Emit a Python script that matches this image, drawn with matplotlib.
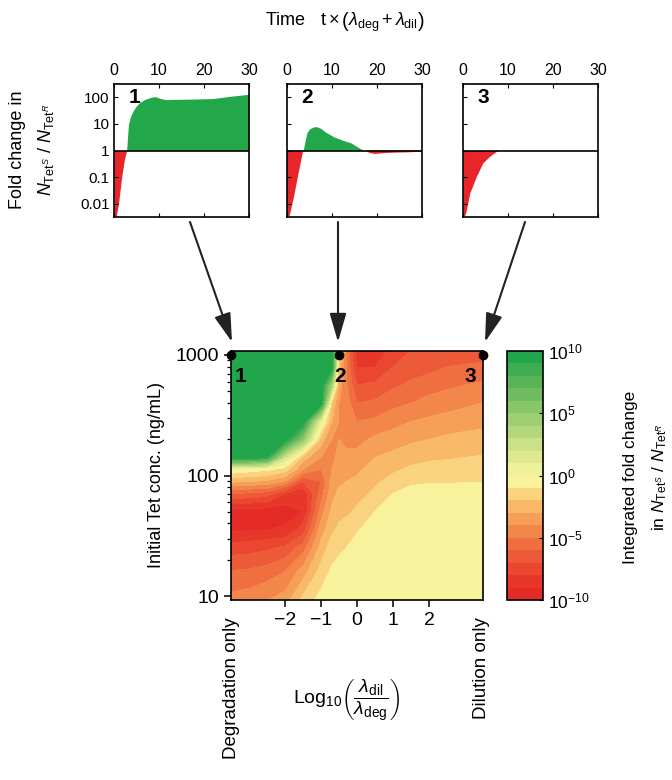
import numpy as np
import matplotlib
matplotlib.use("Agg")
import matplotlib.pyplot as plt
from matplotlib.colors import ListedColormap
from matplotlib.ticker import FixedLocator, NullLocator

plt.rcParams['font.family'] = ['Liberation Sans', 'DejaVu Sans']
plt.rcParams['mathtext.fontset'] = 'custom'
plt.rcParams['mathtext.rm'] = 'Liberation Sans'
plt.rcParams['mathtext.it'] = 'Liberation Sans:italic'
plt.rcParams['mathtext.bf'] = 'Liberation Sans:bold'

# ---- top panels: fold change N_TetS / N_TetR over time ----
t1 = [0, 0.5, 1.0, 1.7, 2.3, 2.8, 3.0, 3.2, 3.6, 4.3, 5.0, 5.8, 7.0, 8.4, 9.2, 10.2, 11.4, 14, 18, 22, 26, 30]
fc1 = [0.0032, 0.0035, 0.01, 0.1, 0.45, 1.0, 3.0, 9.0, 18, 32, 48, 66, 85, 102, 105, 92, 82, 84, 86, 90, 110, 130]

t2 = [0, 0.6, 1.5, 2.5, 3.6, 4.0, 4.4, 5.0, 5.8, 6.6, 7.5, 8.5, 10.5, 12.5, 14.3, 16.2, 17.2, 18.5, 19.5, 21.8, 24, 26.6, 30]
fc2 = [0.0032, 0.0035, 0.016, 0.12, 1.0, 2.2, 4.5, 6.5, 7.6, 7.9, 6.8, 5.0, 3.2, 2.4, 1.9, 1.2, 1.0, 0.8, 0.74, 0.8, 0.83, 0.85, 0.9]

t3 = [0, 0.3, 0.6, 1.5, 2.9, 4.4, 5.8, 7.3, 8.0, 30]
fc3 = [0.0032, 0.0035, 0.0045, 0.025, 0.1, 0.34, 0.58, 0.9, 1.0, 1.0]

panel_names = ['1', '2', '3']
fc_ticks = [0.01, 0.1, 1, 10, 100]
fc_ticklabels = ['0.01', '0.1', '1', '10', '100']

# ---- heat map: log10 integrated fold change ----
log_ratio = [-3.5, -3.0, -2.5, -2.0, -1.5, -1.0, -0.7, -0.5, -0.3, 0.0, 0.5, 1.0, 1.5, 2.0, 2.5, 3.0, 3.5]
log_conc = [0.96, 1.2, 1.4, 1.55, 1.7, 1.85, 1.95, 2.05, 2.15, 2.3, 2.45, 2.6, 2.75, 2.9, 3.04]
log_fold = [
    [-4.6, -4.4, -4.0, -3.5, -1.6, -0.6, -0.4, -0.3, -0.3, -0.3, -0.3, -0.3, -0.3, -0.3, -0.3, -0.3, -0.3],
    [-5.9, -5.8, -5.5, -5.0, -3.5, -1.6, -0.8, -0.6, -0.5, -0.4, -0.3, -0.3, -0.3, -0.3, -0.3, -0.3, -0.3],
    [-7.5, -7.4, -7.2, -6.8, -5.5, -2.6, -1.5, -1.2, -1.0, -0.6, -0.4, -0.3, -0.3, -0.3, -0.3, -0.3, -0.3],
    [-9.2, -9.1, -9.0, -8.8, -7.5, -3.5, -2.2, -1.8, -1.5, -1.1, -0.5, -0.4, -0.3, -0.3, -0.3, -0.3, -0.3],
    [-9.6, -9.6, -9.6, -9.6, -9.0, -4.5, -2.8, -2.3, -2.2, -1.8, -1.0, -0.6, -0.4, -0.4, -0.4, -0.4, -0.4],
    [-6.0, -6.2, -6.5, -8.0, -8.8, -5.5, -3.3, -2.8, -2.6, -2.4, -1.8, -1.0, -0.6, -0.5, -0.5, -0.5, -0.5],
    [-2.8, -3.0, -3.2, -4.0, -7.0, -6.0, -3.6, -3.2, -3.0, -2.8, -2.2, -1.6, -1.2, -1.1, -1.1, -1.05, -1.05],
    [-0.2, -0.5, -0.8, -1.5, -4.0, -5.0, -4.0, -3.5, -3.4, -3.2, -2.6, -2.2, -1.8, -1.6, -1.55, -1.5, -1.5],
    [12, 11, 9, 2, -2.5, -4.0, -4.2, -3.8, -3.8, -3.7, -3.0, -2.7, -2.4, -2.2, -2.1, -2.0, -1.9],
    [14, 14, 14, 14, 5, -2.5, -4.0, -4.0, -4.2, -4.3, -3.8, -3.5, -3.2, -3.0, -2.8, -2.7, -2.6],
    [14, 14, 14, 14, 14, 0.5, -3.0, -4.0, -4.3, -5.0, -4.8, -4.4, -4.0, -3.8, -3.6, -3.4, -3.3],
    [14, 14, 14, 14, 14, 14, -2.0, -4.0, -4.5, -6.0, -5.8, -5.3, -5.0, -4.6, -4.4, -4.2, -4.0],
    [14, 14, 14, 14, 14, 14, 4, -3.5, -4.8, -7.0, -6.8, -6.2, -5.8, -5.5, -5.2, -5.0, -4.8],
    [14, 14, 14, 14, 14, 14, 14, -2.5, -5.0, -8.0, -8.0, -7.0, -6.5, -6.3, -6.0, -5.9, -5.8],
    [14, 14, 14, 14, 14, 14, 14, -1.0, -5.0, -8.6, -8.9, -7.6, -7.0, -6.8, -6.6, -6.5, -6.5],
]
marked_ratio = [-3.5, -0.5, 3.5]
marked_labels = ['1', '2', '3']
ratio_ticks = [-2, -1, 0, 1, 2]
conc_ticks = [1, 2, 3]
conc_ticklabels = ['10', '100', '1000']
cbar_ticks = [-10, -5, 0, 5, 10]
cbar_ticklabels = [r'$10^{-10}$', r'$10^{-5}$', r'$10^{0}$', r'$10^{5}$', r'$10^{10}$']

band_colors = [
    '#e52b28', '#e7372b', '#ea4630', '#ec5a37', '#f06f40',
    '#f3874b', '#f59f58', '#f8b968', '#fad381', '#f9f29c',
    '#eef09a', '#dde88f', '#cbe186', '#b5d77c', '#9fcf73',
    '#88c66a', '#70bd61', '#58b457', '#3eac50', '#22a64b',
]
GREEN = '#22a84a'
RED = '#e8262a'

W, H = 672, 780
fig = plt.figure(figsize=(W / 100, H / 100), dpi=100)


def px_axes(x0, y0, x1, y1):
    return fig.add_axes([x0 / W, 1 - y1 / H, (x1 - x0) / W, (y1 - y0) / H])


panels = [(t1, fc1), (t2, fc2), (t3, fc3)]
lefts = [114, 287, 463]
for i, (t, fc) in enumerate(panels):
    ax = px_axes(lefts[i], 84, lefts[i] + 135, 217)
    t = np.array(t)
    fc = np.array(fc)
    ax.fill_between(t, fc, 1, where=fc >= 1, interpolate=True, color=GREEN, lw=0)
    ax.fill_between(t, fc, 1, where=fc <= 1, interpolate=True, color=RED, lw=0)
    ax.axhline(1, color='k', lw=1.2)
    ax.set_yscale('log')
    ax.set_ylim(10 ** -2.5, 10 ** 2.5)
    ax.set_xlim(0, 30)
    ax.set_xticks([0, 10, 20, 30])
    ax.xaxis.set_ticks_position('both')
    ax.tick_params(axis='x', labeltop=True, labelbottom=False, direction='in',
                   length=3, labelsize=11.5, pad=4)
    ax.yaxis.set_major_locator(FixedLocator(fc_ticks))
    ax.yaxis.set_minor_locator(NullLocator())
    ax.tick_params(axis='y', direction='in', length=3, labelsize=11, pad=3)
    if i == 0:
        ax.set_yticklabels(fc_ticklabels)
    else:
        ax.set_yticklabels([])
    for s in ax.spines.values():
        s.set_linewidth(1.2)
    ax.text(3.2, 100, panel_names[i], fontsize=15, fontweight='bold', va='center')

fig.text(345 / W, 1 - 22 / H,
         r'Time   $\mathrm{t}\times\left(\lambda_{\mathrm{deg}}+\lambda_{\mathrm{dil}}\right)$',
         ha='center', va='center', fontsize=13)
fig.text(18 / W, 1 - 150 / H, 'Fold change in', rotation=90, ha='center', va='center', fontsize=13)
fig.text(46 / W, 1 - 150 / H, r'$N_{\mathrm{Tet}^{S}}$ / $N_{\mathrm{Tet}^{R}}$',
         rotation=90, ha='center', va='center', fontsize=13)

# arrows from panels to heat map
for x0, x1 in [(190, 232), (338, 338), (525, 485)]:
    fig.add_artist(matplotlib.patches.FancyArrowPatch(
        (x0 / W, 1 - 222 / H), (x1 / W, 1 - 342 / H), transform=fig.transFigure,
        arrowstyle='-|>,head_length=1.1,head_width=0.32', mutation_scale=16,
        color='#222222', lw=1.5, shrinkA=0, shrinkB=0))

# heat map
ax = px_axes(231, 351, 483, 600)
Z = np.clip(np.array(log_fold), -10, 9.99)
cmap = ListedColormap(band_colors)
cs = ax.contourf(log_ratio, log_conc, Z, levels=np.arange(-10, 11), cmap=cmap)
ax.set_xlim(-3.5, 3.5)
ax.set_ylim(0.967, 3.033)
ax.set_xticks(ratio_ticks)
ax.set_xticklabels(['\u22122', '\u22121', '0', '1', '2'])
ax.set_yticks(conc_ticks)
ax.set_yticklabels(conc_ticklabels)
minor = [np.log10(k * 10 ** n) for n in (1, 2) for k in range(2, 10)]
ax.yaxis.set_minor_locator(FixedLocator(minor))
ax.tick_params(axis='both', which='major', length=5, width=1.1, labelsize=14)
ax.tick_params(axis='y', which='minor', length=3, width=0.9)
for s in ax.spines.values():
    s.set_linewidth(1.2)
ax.plot(marked_ratio, [3, 3, 3], 'o', color='k', ms=6, clip_on=False, zorder=5)
for xr, lab, dx in zip(marked_ratio, marked_labels, [0.25, 0.03, -0.36]):
    ax.text(xr + dx, 2.82, lab, fontsize=15, fontweight='bold', ha='center', va='center')
ax.set_ylabel('Initial Tet conc. (ng/mL)', fontsize=13, labelpad=8)

fig.text(232 / W, 1 - 617 / H, 'Degradation only', rotation=90, ha='center', va='top', fontsize=13.5)
fig.text(482 / W, 1 - 617 / H, 'Dilution only', rotation=90, ha='center', va='top', fontsize=13.5)
fig.text(347 / W, 1 - 700 / H,
         r'Log$_{10}\left(\dfrac{\lambda_{\mathrm{dil}}}{\lambda_{\mathrm{deg}}}\right)$',
         ha='center', va='center', fontsize=14)

# colour bar
cax = px_axes(507, 351, 543, 600)
cb = fig.colorbar(cs, cax=cax, ticks=cbar_ticks)
cb.set_ticklabels(cbar_ticklabels)
cb.ax.tick_params(direction='in', length=3, labelsize=12.5)
cb.outline.set_linewidth(1.2)
fig.text(630 / W, 1 - 477 / H, 'Integrated fold change', rotation=90, ha='center', va='center', fontsize=12.5)
fig.text(660 / W, 1 - 477 / H, r'in $N_{\mathrm{Tet}^{S}}$ / $N_{\mathrm{Tet}^{R}}$',
         rotation=90, ha='center', va='center', fontsize=12.5)

fig.savefig('out.png', dpi=100)
